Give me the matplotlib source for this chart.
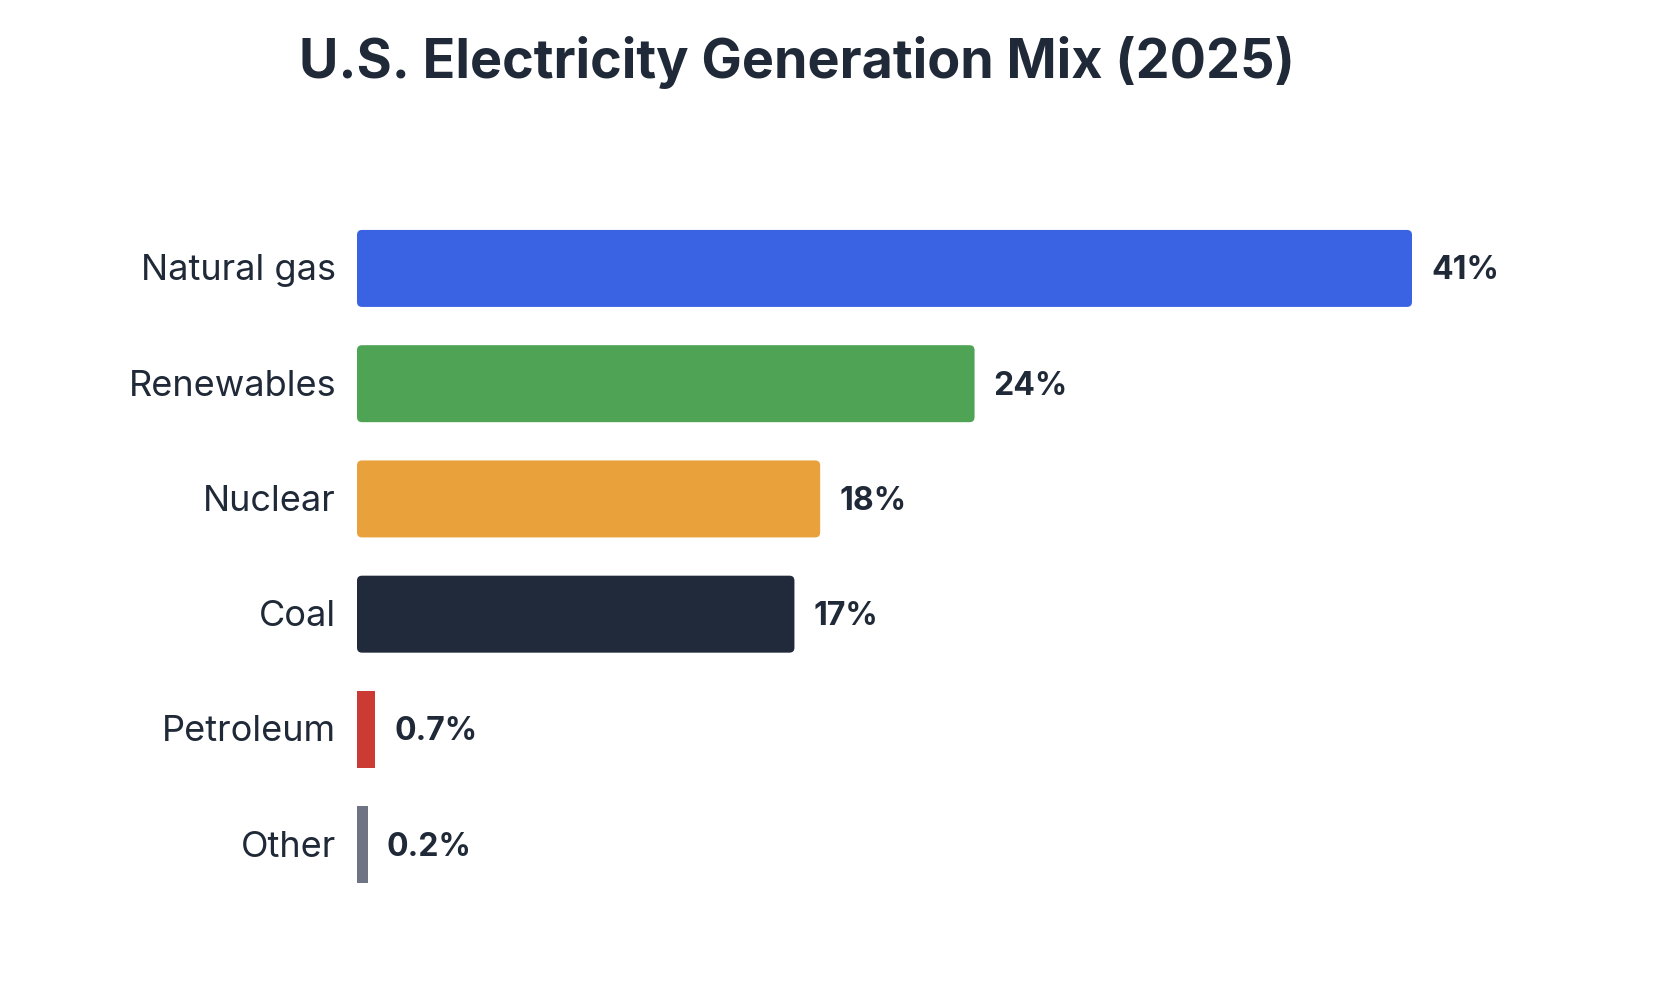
import numpy as np
import matplotlib
matplotlib.use("Agg")
from matplotlib import pyplot as plt
from matplotlib.patches import FancyBboxPatch

plt.rcParams['font.family'] = ['Inter', 'DejaVu Sans']

categories = ['Natural gas', 'Renewables', 'Nuclear', 'Coal', 'Petroleum', 'Other']
shares = [41, 24, 18, 17, 0.7, 0.2]
value_labels = ['41%', '24%', '18%', '17%', '0.7%', '0.2%']
colors = ['#3a63e4', '#4ea454', '#e9a13b', '#212a3b', '#cc3b33', '#6f7484']
text_color = '#1f2937'

W, H = 1668, 986
fig = plt.figure(figsize=(W / 100, H / 100), dpi=100)
ax = fig.add_axes([357 / W, 0.0849, 0.70, 0.7013])

px_per_unit = 1055 / 41          # horizontal pixels per percent
xmax = 0.70 * W / px_per_unit
ax.set_xlim(0, xmax)
ax.set_ylim(5.5, -0.5)
py_per_unit = 0.7013 * H / 6

bar_h = 0.668
min_w = 11 / px_per_unit   # tiny shares still get a visible sliver
y = np.arange(len(categories))
widths = np.maximum(shares, min_w)
dy = 2.5 / py_per_unit     # nudge text down to sit centred on bars

r_px = 5
for yi, w, c in zip(y, widths, colors):
    if w > 1:
        box = FancyBboxPatch((0, yi - bar_h / 2), w, bar_h,
                             boxstyle=f"round,pad=0,rounding_size={r_px / px_per_unit}",
                             mutation_aspect=px_per_unit / py_per_unit,
                             facecolor=c, edgecolor='none')
    else:
        box = FancyBboxPatch((0, yi - bar_h / 2), w, bar_h, boxstyle="square,pad=0",
                             facecolor=c, edgecolor='none')
    ax.add_patch(box)

for yi, w, lab in zip(y, widths, value_labels):
    ax.text(w + 19 / px_per_unit, yi + dy, lab, va='center', ha='left',
            fontsize=23, fontweight='bold', color=text_color)

for yi, cat in zip(y, categories):
    ax.text(-21 / px_per_unit, yi + dy, cat, va='center', ha='right',
            fontsize=26, color=text_color)

ax.axis('off')

fig.text(0.4775, 0.9365, 'U.S. Electricity Generation Mix (2025)', ha='center', va='center',
         fontsize=38.8, fontweight='bold', color=text_color)

fig.savefig('out.png', dpi=100, facecolor='white')
